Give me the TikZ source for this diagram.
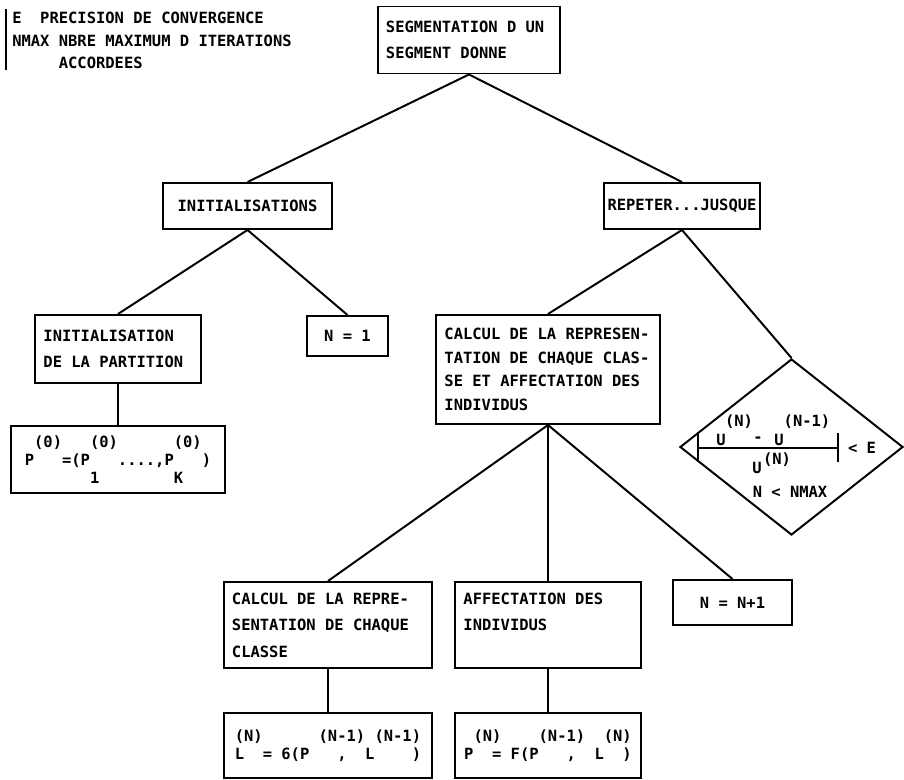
\documentclass[tikz,border=0pt]{standalone}
\usepackage{fontspec}
\usepackage{tikz}
\usetikzlibrary{shapes,positioning,calc}
\newfontfamily\dotfont{DejaVu Sans Mono}
\newcommand{\boxfont}[1]{\dotfont\bfseries\fontsize{11}{#1}\selectfont}

\begin{document}
\begin{tikzpicture}[x=0.025cm,y=-0.025cm]
    % Define styles
    \tikzstyle{block} = [rectangle, draw, line width=1.4pt, inner xsep=0.2cm, inner ysep=0pt, align=left, font=\boxfont{18}, execute at begin node={\spaceskip=0.602em\xspaceskip=0.602em\relax}]
    \tikzstyle{single} = [rectangle, draw, line width=1.4pt, inner sep=1pt, align=center, font=\boxfont{18}]
    \tikzstyle{formula} = [rectangle, draw, line width=1.4pt, inner sep=0pt, align=left, font=\boxfont{13}]
    \tikzstyle{decision} = [diamond, draw, line width=1.4pt, inner sep=0pt]
    \tikzstyle{lbl} = [inner sep=0pt, font=\boxfont{13}]
    \tikzstyle{link} = [line width=1.4pt]

    \useasboundingbox (0,0) rectangle (904,780);

    % Legend
    \node[lbl, align=left, anchor=north west, font=\boxfont{16}] (legend) at (12,12) {E~~PRECISION DE CONVERGENCE\\NMAX~NBRE MAXIMUM D ITERATIONS\\~~~~~ACCORDEES};
    \coordinate (bartop) at (6,9);
    \coordinate (barbot) at (6,70);
    \draw[link] (bartop) -- (barbot);

    % Root
    \node[block, text width=4.15cm, minimum height=1.675cm, font=\boxfont{18.5}] (seg) at (469,40) {SEGMENTATION D UN\\SEGMENT DONNE};

    % Level 1
    \node[single, minimum width=4.225cm, minimum height=1.15cm] (init) at (247.5,206) {INITIALISATIONS};
    \node[single, minimum width=3.9cm, minimum height=1.15cm] (rep) at (682,206) {REPETER...JUSQUE};

    % Level 2
    \node[block, text width=3.725cm, minimum height=1.7cm] (initpart) at (118,349) {INITIALISATION\\DE LA PARTITION};
    \node[single, minimum width=2.025cm, minimum height=1.0cm] (none) at (347.5,336) {N = 1};
    \node[block, text width=5.175cm, minimum height=2.725cm, font=\boxfont{16.8}] (calcaff) at (548,369.5) {CALCUL DE LA REPRESEN-\\TATION DE CHAQUE CLAS-\\SE ET AFFECTATION DES\\INDIVIDUS};
    \node[decision, minimum width=5.575cm, minimum height=4.4cm] (cond) at (791.5,447) {};

    % Stop condition
    \node[lbl] (cn1) at (739,422) {(N)};
    \node[lbl] (cn2) at (807,422) {(N-1)};
    \node[lbl] (cu1) at (721,440) {U};
    \node[lbl] (cminus) at (758,440) {-};
    \node[lbl] (cu2) at (779,440) {U};
    \node[lbl] (cu3) at (757,468) {U};
    \node[lbl] (cn3) at (777,460) {(N)};
    \node[lbl] (clt) at (862,448) {<~E};
    \node[lbl] (cmax) at (790,492) {N~<~NMAX};
    \coordinate (absl) at (698,448);
    \coordinate (absr) at (838,448);
    \draw[link] (absl) -- (absr);
    \draw[link] ($(absl)+(0,-14)$) -- ($(absl)+(0,14)$);
    \draw[link] ($(absr)+(0,-15)$) -- ($(absr)+(0,14)$);

    % Level 3
    \node[formula, minimum width=5.325cm, minimum height=1.675cm] (pzero) at (118,459.5) {~(0)~~~(0)~~~~~~(0)\\P~~~=(P~~~....,P~~~)\\~~~~~~~1~~~~~~~~K};
    \node[block, text width=4.8cm, minimum height=2.15cm, font=\boxfont{18.8}] (calc) at (328,625) {CALCUL DE LA REPRE-\\SENTATION DE CHAQUE\\CLASSE};
    \node[block, text width=4.225cm, minimum height=2.15cm, font=\boxfont{18.8}] (affect) at (548,625) {AFFECTATION DES\\INDIVIDUS\\\mbox{}};
    \node[single, minimum width=2.975cm, minimum height=1.125cm] (nnext) at (732.5,602.5) {N = N+1};

    % Level 4
    \node[formula, minimum width=5.2cm, minimum height=1.625cm] (lbox) at (328,745.5) {(N)~~~~~~(N-1)~(N-1)\\L~~=~6(P~~~,~~L~~~~)};
    \node[formula, minimum width=4.625cm, minimum height=1.625cm] (pbox) at (548,745.5) {~(N)~~~~(N-1)~~(N)\\P~~=~F(P~~~,~~L~~)};

    % Links
    \draw[link] (seg.south) -- (init.north);
    \draw[link] (seg.south) -- (rep.north);
    \draw[link] (init.south) -- (initpart.north);
    \draw[link] (init.south) -- (none.north);
    \draw[link] (rep.south) -- (calcaff.north);
    \draw[link] (rep.south) -- (cond.north);
    \draw[link] (initpart.south) -- (pzero.north);
    \draw[link] (calcaff.south) -- (calc.north);
    \draw[link] (calcaff.south) -- (affect.north);
    \draw[link] (calcaff.south) -- (nnext.north);
    \draw[link] (calc.south) -- (lbox.north);
    \draw[link] (affect.south) -- (pbox.north);

\end{tikzpicture}
\end{document}
